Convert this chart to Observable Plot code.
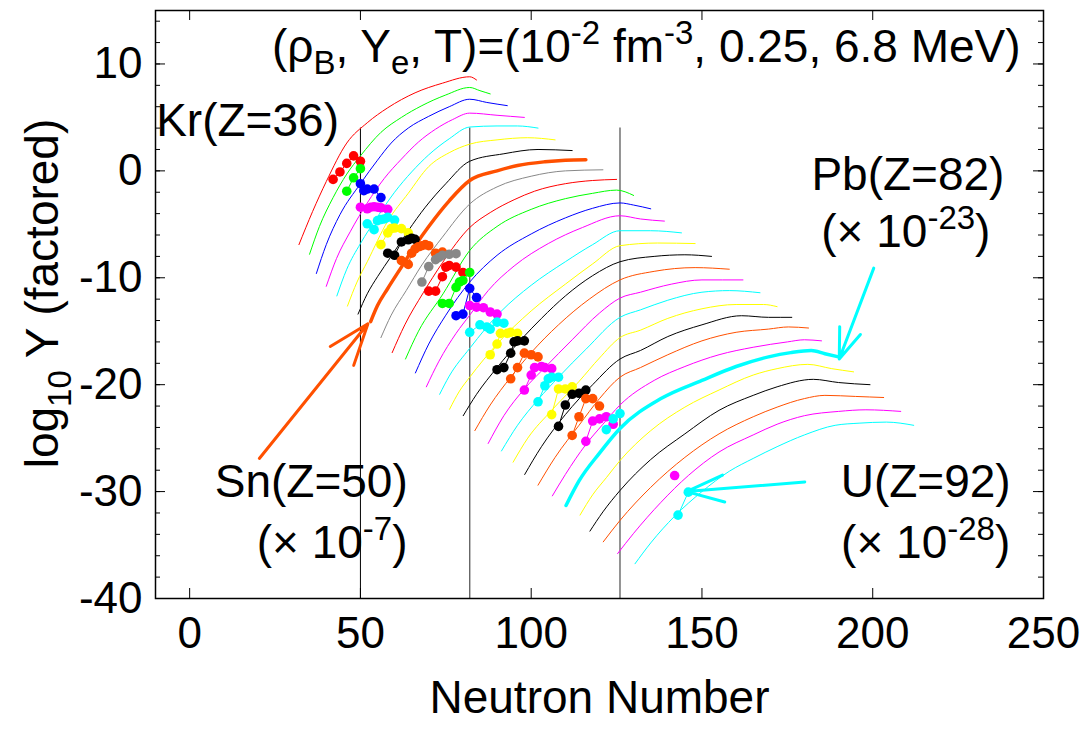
<!DOCTYPE html>
<html><head><meta charset="utf-8">
<script src="https://cdn.jsdelivr.net/npm/d3@7"></script>
<script src="https://cdn.jsdelivr.net/npm/@observablehq/plot@0.6"></script>
<style>
html,body{margin:0;padding:0;background:#fff}
</style>
</head><body><div id="chart"></div>
<script>
// ---------- data ----------
const elementNames = ["Kr","Sr","Zr","Mo","Ru","Pd","Cd","Sn","Te","Xe","Ba","Ce","Nd","Sm","Gd","Dy","Er","Yb","Hf","W","Os","Pt","Hg","Pb","Po","Rn","Ra","Th","U"];
const lineColors = ["#ff0000","#00ff00","#0000ff","#ff00ff","#00ffff","#ffff00","#000000","#ff5000","#888888",
  "#ff0000","#00ff00","#0000ff","#ff00ff","#00ffff","#ffff00","#000000","#ff5000",
  "#ff00ff","#00ffff","#ffff00","#000000","#ff5000","#ff00ff","#00ffff","#ffff00","#000000","#ff5000","#ff00ff","#00ffff"];
const thickElements = ["Sn","Pb"];
const magicNumbers = [50,82,126];

// calculated yields: [neutron number, log10 Y (factored)]
const calcKr = [[32,-6.9],[36,-3.8],[40,-1.0],[46,2.6],[52,4.5],[58,5.9],[66,7.3],[74,8.2],[82,8.8],[84,8.5]];
const calcSr = [[35.1,-7.8],[38,-5.2],[42,-2.5],[46,-0.3],[50,1.4],[56,3.6],[62,5.0],[68,6.1],[75,7.1],[82,7.8],[85,7.5],[88,7.2]];
const calcZr = [[37.1,-9.6],[40,-6.9],[44,-4.1],[50,-1.2],[55,1.0],[59,2.6],[64,4.0],[70,5.1],[76,6.0],[82,6.7],[87,6.4],[93,6.1]];
const calcMo = [[40,-10.8],[43,-8.2],[47,-5.7],[52,-3.0],[57,-0.7],[62,1.1],[67,2.7],[72,3.9],[77,4.8],[82,5.4],[90,5.2],[98,5.0]];
const calcRu = [[43.1,-11.7],[46,-9.2],[50,-6.8],[55,-4.3],[60,-2.0],[65,-0.1],[70,1.5],[76,3.0],[82,4.1],[90,4.2],[96,4.2],[102,4.0]];
const calcPd = [[46.2,-12.65],[49,-10.4],[52,-8.5],[58,-4.7],[64,-2.1],[70,0.4],[76,1.7],[82,2.5],[90,2.9],[99,3.1],[107,2.9]];
const calcCd = [[49.3,-13.4],[52,-11.5],[55,-9.9],[59,-8.0],[64,-5.6],[69,-3.4],[75,-1.2],[82,0.9],[92,1.6],[102,2.0],[112,1.9]];
const calcSn = [[53,-14.1],[55,-12.6],[58,-11.0],[62,-9.0],[66,-7.0],[70,-5.2],[76,-2.8],[82,-0.9],[90,0.0],[96,0.5],[104,0.85],[110,1.0],[116,1.05]];
const calcTe = [[56,-15.6],[59,-13.5],[63.4,-11.2],[68,-8.8],[74,-6.2],[82,-3.1],[90,-1.5],[100,-0.5],[110,0.0],[121,0.1]];
const calcXe = [[59.3,-17.0],[63,-14.4],[68.4,-11.4],[74,-8.6],[82,-5.3],[88,-3.9],[95,-2.7],[101,-1.9],[110,-1.2],[118,-0.9],[125,-0.8]];
const calcBa = [[63.2,-17.6],[67,-15.0],[74.2,-11.5],[82,-7.45],[90,-5.2],[100,-3.6],[110,-2.6],[118,-2.1],[125,-1.8],[130,-2.3]];
const calcCe = [[66.1,-18.9],[70,-16.2],[75,-13.5],[82,-10.4],[90,-7.9],[100,-5.9],[110,-4.4],[118,-3.5],[126,-3.0],[130,-3.2],[135,-3.55]];
const calcNd = [[69.3,-20.2],[73,-17.8],[78,-15.2],[82,-13.5],[87.4,-11.2],[95,-8.9],[105,-6.8],[115,-5.3],[126,-4.2],[132,-4.5],[139,-4.7]];
const calcSm = [[73.2,-20.9],[76,-19.2],[82,-16.6],[91,-13.2],[100,-10.7],[110,-8.5],[118,-6.9],[126,-5.6],[135,-5.6],[144,-5.8]];
const calcGd = [[76.1,-22.3],[79,-20.6],[82,-19.3],[90,-16.2],[100,-13.1],[110,-10.6],[118,-8.7],[126,-7.0],[137,-6.75],[148,-6.8]];
const calcDy = [[80.1,-22.9],[84,-20.9],[90,-18.4],[97,-15.8],[103,-13.8],[110,-11.7],[118,-9.8],[126,-8.5],[136,-8.0],[145,-7.85],[152.8,-8.0]];
const calcEr = [[83.5,-24.3],[88,-21.9],[94,-19.3],[100,-17.0],[108,-14.4],[117,-12.0],[126,-10.2],[136,-9.4],[148,-9.05],[158,-9.2]];
const calcYb = [[87.4,-25.5],[92,-22.9],[98,-20.4],[104,-18.4],[112,-15.8],[120,-13.3],[126,-11.9],[132,-11.35],[141,-10.6],[150,-10.2],[162,-10.2]];
const calcHf = [[91.3,-26.2],[96,-23.8],[102,-21.4],[108,-19.3],[116,-16.7],[126,-13.7],[132,-13.0],[140,-12.1],[150,-11.35],[158,-11.2],[167,-11.4]];
const calcW  = [[94.7,-27.25],[99,-25.0],[106,-22.4],[114,-19.7],[120,-17.5],[126,-15.6],[132,-14.9],[140,-13.8],[150,-12.9],[160,-12.5],[168,-12.5],[172,-12.7]];
const calcOs = [[98.1,-28.4],[103,-25.8],[110,-22.8],[118,-20.0],[126,-17.6],[132,-16.8],[140,-15.5],[150,-14.4],[161.6,-13.55],[169.5,-13.7],[176.3,-13.7]];
const calcPt = [[102,-29.4],[107,-26.8],[114,-23.8],[120,-21.3],[126,-19.3],[132,-18.4],[140,-17.2],[150,-15.9],[160,-15.1],[169.5,-14.8],[175.3,-14.6],[181.2,-14.7]];
const calcHg = [[106.2,-30.4],[110,-28.4],[116,-25.6],[121,-23.7],[126,-21.9],[136,-19.6],[145,-18.3],[155,-17.2],[165,-16.5],[175,-16.0],[180,-15.8],[185,-15.9]];
const calcPb = [[110.2,-31.3],[114,-29.0],[120,-26.4],[126,-24.1],[138,-21.3],[150,-19.6],[160,-18.3],[169.5,-17.4],[176,-17.0],[182,-16.8],[186,-17.1],[190,-17.4]];
const calcPo = [[114.3,-32.2],[118,-30.3],[122,-28.7],[126,-27.1],[135,-24.3],[145,-22.1],[155,-20.5],[165,-19.1],[172,-18.5],[181,-18.1],[188,-18.5],[194.4,-18.8]];
const calcRn = [[117.2,-33.7],[121,-31.9],[126,-29.9],[135,-27.0],[145,-24.6],[155,-22.4],[165,-21.0],[172,-20.2],[182.6,-19.5],[190,-19.8],[199.2,-20.0]];
const calcRa = [[121.1,-34.7],[126,-32.7],[135,-29.6],[145,-26.8],[155,-24.6],[165,-23.0],[172,-22.1],[180,-21.3],[186,-21.0],[195,-21.1],[203.2,-21.2]];
const calcTh = [[125.3,-35.8],[130,-33.9],[138,-31.0],[146,-28.5],[155,-26.3],[165,-24.7],[172,-23.7],[180,-22.9],[190,-22.5],[198,-22.35],[208.2,-22.5]];
const calcU  = [[130.4,-36.75],[135,-34.8],[142,-32.3],[150,-30.0],[158,-28.1],[165,-26.9],[172,-25.8],[180,-24.7],[189,-23.8],[196,-23.6],[204,-23.5],[212,-23.8]];

// measured (solar) abundances: [neutron number, log10 Y (factored)]
const obsKr = [[42,-0.8],[44,-0.1],[46,0.7],[48,1.4],[50,0.9]];
const obsSr = [[46,-1.9],[48,-0.65],[50,0.2]];
const obsZr = [[50,-1.2],[51,-1.85],[52,-1.7],[54,-1.7],[56,-2.5]];
const obsMo = [[50,-3.4],[52,-3.55],[53,-3.4],[54,-3.35],[55,-3.4],[56,-3.45],[58,-3.6]];
const obsRu = [[52,-4.95],[54,-5.5],[55,-4.65],[56,-4.55],[57,-4.5],[58,-4.35],[60,-4.6]];
const obsPd = [[56,-6.9],[58,-5.8],[59,-5.4],[60,-5.35],[62,-5.4],[64,-5.8]];
const obsCd = [[58,-7.7],[60,-7.9],[62,-6.65],[64,-6.45],[65,-6.3],[66,-6.4]];
const obsSn = [[62,-8.4],[64,-8.75],[65,-7.7],[66,-7.3],[67,-7.1],[68,-7.0],[69,-6.9],[70,-7.0],[72,-7.7],[74,-7.6]];
const obsTe = [[68,-10.4],[70,-8.95],[72,-8.3],[73,-8.1],[74,-7.9],[76,-7.8],[78,-7.75]];
const obsXe = [[70,-11.25],[72,-11.25],[74,-9.9],[75,-9.0],[76,-8.85],[78,-9.0],[80,-9.5]];
const obsBa = [[74,-12.4],[76,-12.4],[78,-10.9],[79,-10.4],[80,-10.25],[82,-9.5]];
const obsCe = [[78,-13.55],[80,-13.4],[82,-11.0],[84,-11.85]];
const obsNd = [[82,-12.6],[84,-12.75],[86,-12.8],[88,-13.2],[90,-13.4]];
const obsSm = [[82,-15.1],[85,-14.4],[87,-14.6],[88,-14.8],[90,-14.15],[92,-14.25]];
const obsGd = [[88,-17.2],[90,-16.2],[91,-15.2],[93,-15.2],[94,-15.1],[96,-15.2]];
const obsDy = [[90,-18.6],[92,-18.4],[94,-17.05],[95,-16.0],[96,-15.9],[98,-15.9]];
const obsEr = [[94,-19.45],[96,-18.4],[98,-17.05],[100,-17.2],[102,-17.4]];
const obsYb = [[98,-20.5],[100,-19.1],[101,-18.4],[103,-18.3],[104,-18.4],[106,-18.5]];
const obsHf = [[102,-21.6],[104,-20.1],[105,-19.45],[106,-19.3],[108,-19.3]];
const obsW  = [[106,-22.8],[108,-20.4],[110,-20.4],[112,-20.2]];
const obsOs = [[108,-23.9],[110,-21.9],[112,-20.9],[114,-20.8],[116,-20.5]];
const obsPt = [[112,-24.75],[114,-23.0],[116,-21.3],[118,-21.3],[120,-22.0]];
const obsHg = [[116,-25.3],[118,-23.4],[120,-23.2],[122,-23.0],[124,-23.7]];
const obsPb = [[122,-24.2],[124,-23.2],[126,-22.7]];
const obsTh = [[142,-28.5]];
const obsU  = [[143,-32.2],[146,-30.05]];

// annotation arrows (from -> to, in data units)
const arrowFrom = [[20.4,-26.9],[200.3,-9.1],[180.1,-29.1]];
const arrowTo   = [[52.2,-14.3],[190.2,-17.6],[145.5,-30.0]];
const arrowColors = ["#ff5000","#00ffff","#00ffff"];

// axis ticks
const xMajorTicks = [0,50,100,150,200,250];
const yMajorTicks = [-40,-30,-20,-10,0,10];
const yMinorTicks = d3.range(-40, 15.01, 2);
const xDomain = [-10, 250];
const yDomain = [-40, 15];
const xLabel = "Neutron Number";

// rich text: [text, shift] shift 0 normal, 1 superscript, -1 subscript
const yLabelParts = [["log",0],["10",-1],[" Y (factored)",0]];
const titleParts = [["(ρ",0],["B",-1],[", Y",0],["e",-1],[", T)=(10",0],["-2",1],[" fm",0],["-3",1],[", 0.25, 6.8 MeV)",0]];
const krParts = [["Kr(Z=36)",0]];
const pbParts = [["Pb(Z=82)",0]];
const pbFactorParts = [["(× 10",0],["-23",1],[")",0]];
const snParts = [["Sn(Z=50)",0]];
const snFactorParts = [["(× 10",0],["-7",1],[")",0]];
const uParts = [["U(Z=92)",0]];
const uFactorParts = [["(× 10",0],["-28",1],[")",0]];

// ---------- build tables ----------
const calcSets = [calcKr,calcSr,calcZr,calcMo,calcRu,calcPd,calcCd,calcSn,calcTe,calcXe,calcBa,calcCe,calcNd,calcSm,calcGd,calcDy,calcEr,calcYb,calcHf,calcW,calcOs,calcPt,calcHg,calcPb,calcPo,calcRn,calcRa,calcTh,calcU];
const obsSets = {Kr:obsKr,Sr:obsSr,Zr:obsZr,Mo:obsMo,Ru:obsRu,Pd:obsPd,Cd:obsCd,Sn:obsSn,Te:obsTe,Xe:obsXe,Ba:obsBa,Ce:obsCe,Nd:obsNd,Sm:obsSm,Gd:obsGd,Dy:obsDy,Er:obsEr,Yb:obsYb,Hf:obsHf,W:obsW,Os:obsOs,Pt:obsPt,Hg:obsHg,Pb:obsPb,Th:obsTh,U:obsU};
const colorOf = Object.fromEntries(elementNames.map((e,i)=>[e,lineColors[i]]));
const calcRows = [];
elementNames.forEach((el,i)=>calcSets[i].forEach(([N,Y])=>calcRows.push({el,N,Y,color:lineColors[i],thick:thickElements.includes(el)})));
const obsRows = [];
Object.entries(obsSets).forEach(([el,arr])=>arr.forEach(([N,Y])=>obsRows.push({el,N,Y,color:colorOf[el]})));
const arrows = arrowFrom.map((f,i)=>({x1:f[0],y1:f[1],x2:arrowTo[i][0],y2:arrowTo[i][1],color:arrowColors[i]}));

const joinParts = p => p.map(d=>d[0]).join("");
const richList = [yLabelParts,titleParts,krParts,pbParts,pbFactorParts,snParts,snFactorParts,uParts,uFactorParts];

// ---------- layout ----------
const W = 1087, H = 737, mL = 155, mR = 44, mT = 10, mB = 139;
const fw = W - mL - mR, fh = H - mT - mB;
const FONT = "'Liberation Sans', Arial, Helvetica, sans-serif";
const fsTick = 44, fsLabel = 46;

const annotations = [
  {parts: titleParts, x: 243.3, y: 11.6, anchor: "end"},
  {parts: krParts, x: -9.8, y: 4.6, anchor: "start"},
  {parts: pbParts, x: 210.3, y: -0.4, anchor: "middle"},
  {parts: pbFactorParts, x: 209.7, y: -5.7, anchor: "middle"},
  {parts: snParts, x: 35.6, y: -29.1, anchor: "middle"},
  {parts: snFactorParts, x: 41.7, y: -34.8, anchor: "middle"},
  {parts: uParts, x: 215.5, y: -29.1, anchor: "middle"},
  {parts: uFactorParts, x: 215.5, y: -34.8, anchor: "middle"}
].map(a => ({...a, text: joinParts(a.parts)}));

const chart = Plot.plot({
  width: W, height: H,
  marginLeft: mL, marginRight: mR, marginTop: mT, marginBottom: mB,
  style: {fontFamily: FONT, background: "#fff", color: "#000"},
  x: {domain: xDomain, axis: null},
  y: {domain: yDomain, axis: null},
  marks: [
    Plot.ruleX(magicNumbers, {x: d => d, y1: 4, y2: yDomain[0], stroke: d => d === 50 ? "#000" : "#666", strokeWidth: d => d === 50 ? 1 : 1.4}),
    Plot.line(calcRows.filter(d => !d.thick), {x: "N", y: "Y", z: "el", stroke: "color", strokeWidth: 1, curve: "monotone-x"}),
    Plot.line(calcRows.filter(d => d.thick), {x: "N", y: "Y", z: "el", stroke: "color", strokeWidth: 3.5, curve: "monotone-x"}),
    Plot.line(obsRows, {x: "N", y: "Y", z: "el", stroke: "color", strokeWidth: 1}),
    Plot.dot(obsRows, {x: "N", y: "Y", fill: "color", r: 4.8}),
    Plot.arrow(arrows, {x1: "x1", y1: "y1", x2: "x2", y2: "y2", stroke: "color", strokeWidth: 3, headLength: 22, headAngle: 40}),
    // ticks (inward, mirrored)
    Plot.tickX(xMajorTicks, {x: d => d, insetTop: fh - 10, stroke: "#000"}),
    Plot.tickX(xMajorTicks, {x: d => d, insetBottom: fh - 10, stroke: "#000"}),
    Plot.tickY(yMajorTicks, {y: d => d, insetRight: fw - 10, stroke: "#000"}),
    Plot.tickY(yMajorTicks, {y: d => d, insetLeft: fw - 10, stroke: "#000"}),
    Plot.tickY(yMinorTicks, {y: d => d, insetRight: fw - 5, stroke: "#000"}),
    Plot.tickY(yMinorTicks, {y: d => d, insetLeft: fw - 5, stroke: "#000"}),
    Plot.frame({stroke: "#000", strokeWidth: 1.5}),
    // tick labels
    Plot.text(xMajorTicks, {x: d => d, text: d => String(d), frameAnchor: "bottom", dy: 49, fontSize: fsTick, fill: "#000"}),
    Plot.text(yMajorTicks, {y: d => d, text: d => String(d), frameAnchor: "left", textAnchor: "end", dx: -13, fontSize: fsTick, fill: "#000"}),
    // axis labels
    Plot.text([xLabel], {text: d => d, frameAnchor: "bottom", textAnchor: "middle", dy: 114, fontSize: fsLabel, fill: "#000"}),
    Plot.text([joinParts(yLabelParts)], {text: d => d, frameAnchor: "left", textAnchor: "middle", rotate: -90, dx: -112, dy: -11, fontSize: fsLabel, fill: "#000"}),
    // annotations
    Plot.text(annotations.filter(a => a.anchor === "start"), {x: "x", y: "y", text: "text", textAnchor: "start", fontSize: fsLabel, fill: "#000"}),
    Plot.text(annotations.filter(a => a.anchor === "middle"), {x: "x", y: "y", text: "text", textAnchor: "middle", fontSize: fsLabel, fill: "#000"}),
    Plot.text(annotations.filter(a => a.anchor === "end"), {x: "x", y: "y", text: "text", textAnchor: "end", fontSize: fsLabel, fill: "#000"})
  ]
});

// rebuild rich texts with sub/superscripts
const richMap = new Map(richList.map(p => [joinParts(p), p]));
chart.querySelectorAll("text").forEach(t => {
  const parts = richMap.get(t.textContent);
  if (!parts || parts.length < 2) return;
  const fs = fsLabel;
  t.textContent = "";
  let shift = 0;
  parts.forEach(([s, k]) => {
    const ts = document.createElementNS("http://www.w3.org/2000/svg", "tspan");
    const target = k === 1 ? -0.38 * fs : k === -1 ? 0.28 * fs : 0;
    ts.setAttribute("dy", String(target - shift));
    shift = target;
    if (k !== 0) ts.setAttribute("font-size", String(Math.round(fs * 0.72)));
    ts.textContent = s;
    t.appendChild(ts);
  });
});

document.getElementById("chart").appendChild(chart);
</script>
</body></html>
